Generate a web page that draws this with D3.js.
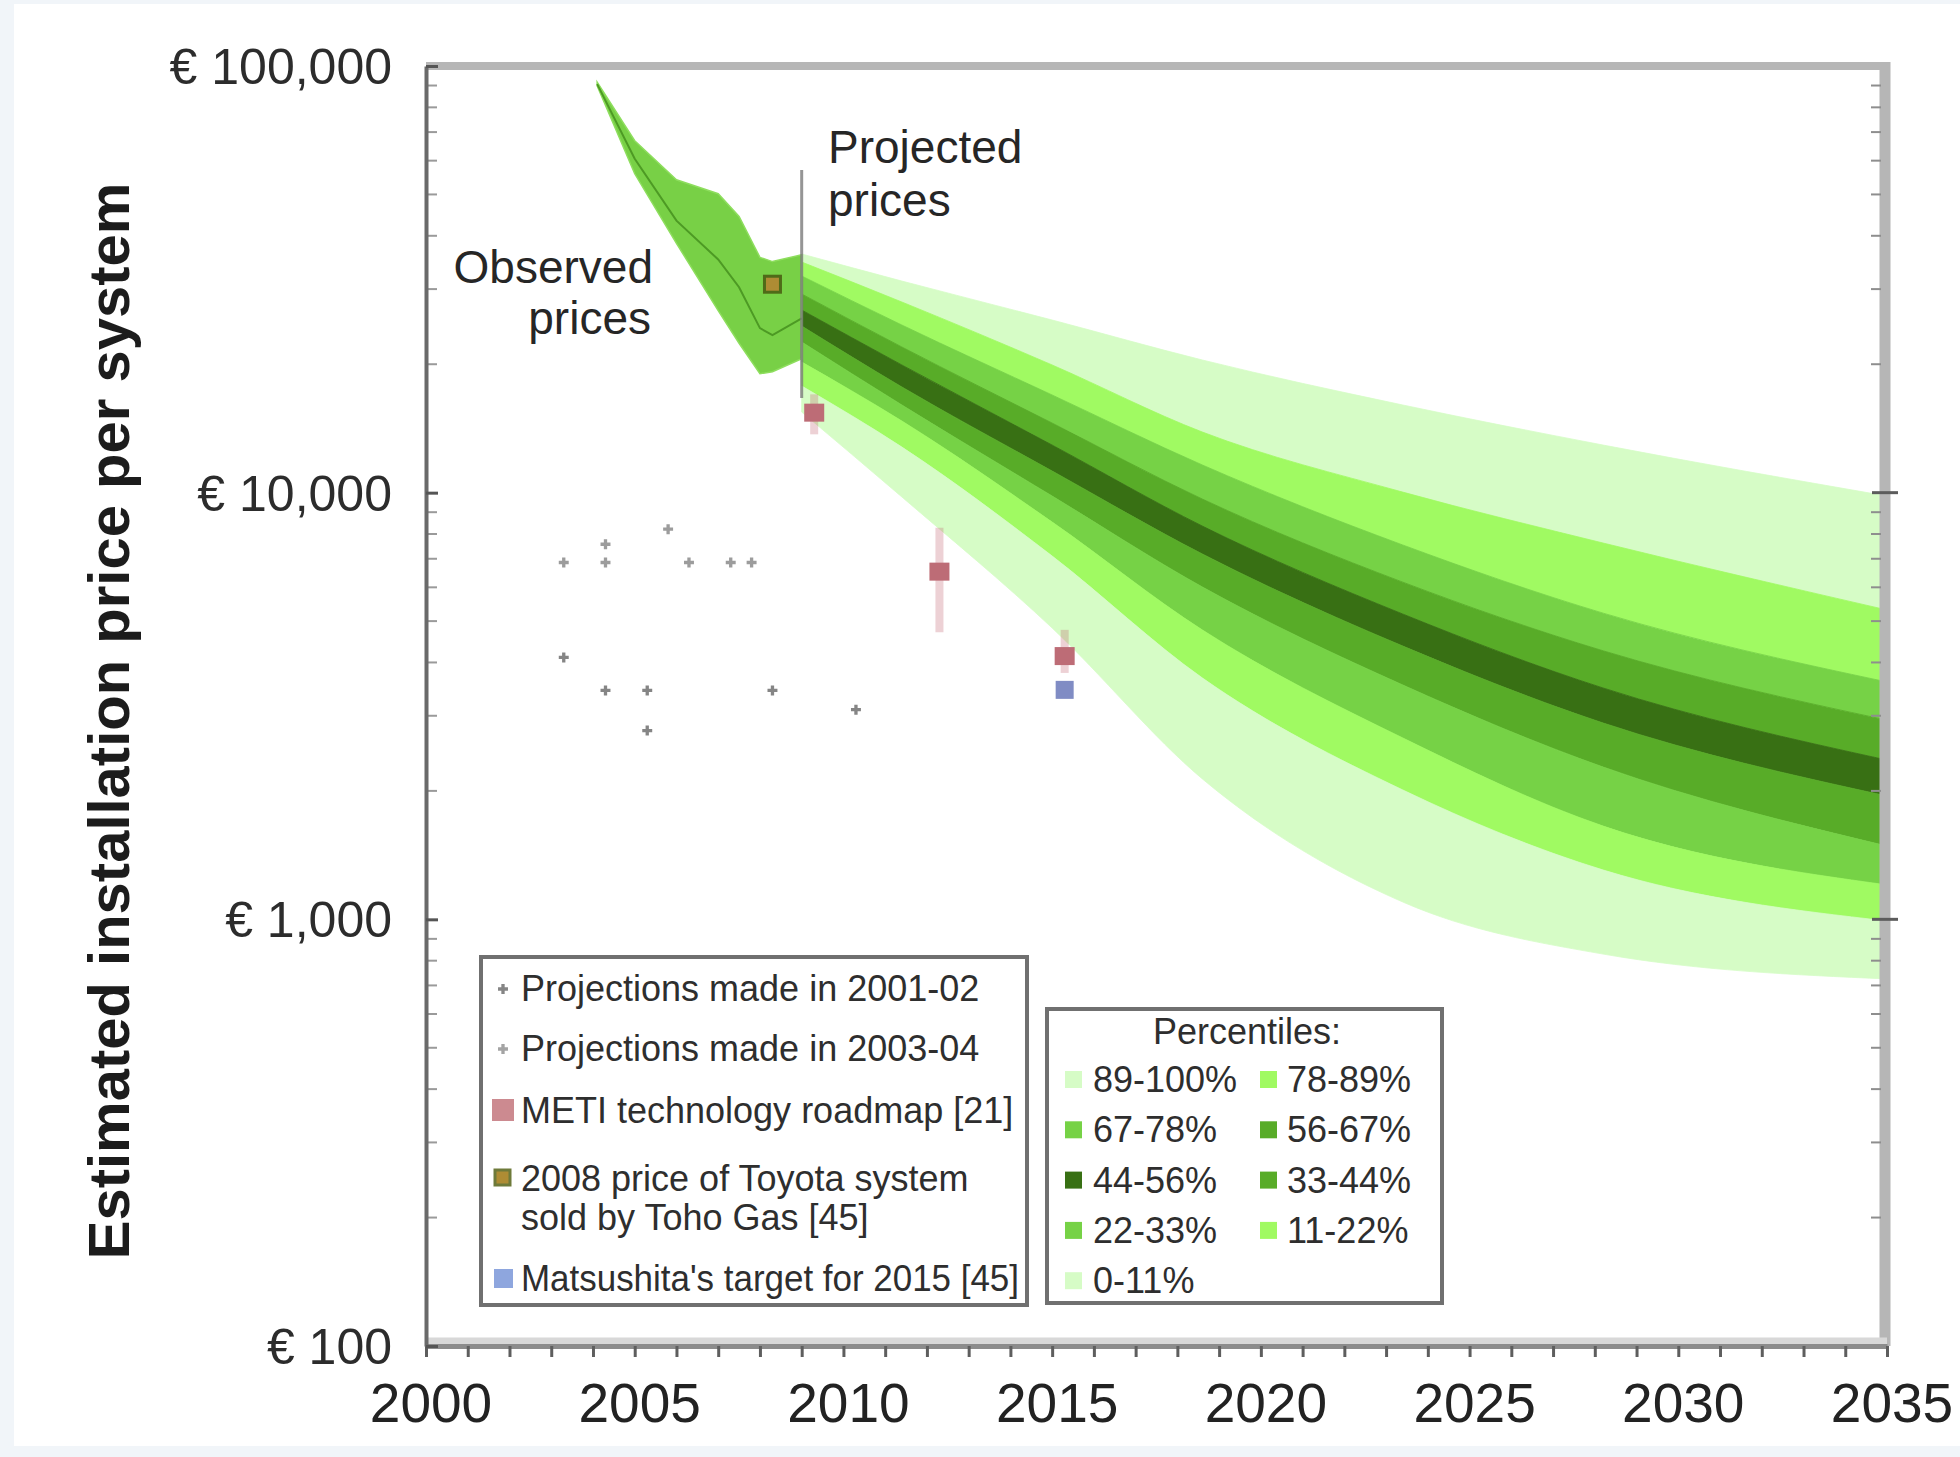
<!DOCTYPE html>
<html>
<head>
<meta charset="utf-8">
<script src="https://cdn.jsdelivr.net/npm/d3@7"></script>
<style>
  body { margin: 0; background: #f1f5f9; }
  svg { display: block; font-family: "Liberation Sans", Arial, sans-serif; }
</style>
</head>
<body>
<div id="grafico"></div>
<script>
// projected price fan, percentile boundaries (EUR per system)
const fanYears = [2009, 2011.4, 2015, 2018.6, 2023.4, 2028.2, 2035];
const p100 = [36260, 31330, 25390, 20460, 16050, 12930, 9820];
const p89  = [34720, 27980, 19920, 13870, 10030, 7620, 5310];
const p78  = [32200, 24710, 16940, 11610, 7540, 5220, 3600];
const p67  = [29220, 21950, 14560, 9660, 6170, 4260, 2930];
const p56  = [26800, 19920, 12930, 8350, 5195, 3485, 2362];
const p44  = [24580, 17690, 11240, 7180, 4370, 2885, 1945];
const p33  = [22550, 16050, 9820, 6010, 3542, 2275, 1485];
const p22  = [20240, 14720, 8535, 4765, 2661, 1654, 1204];
const p11  = [17780, 12790, 7104, 3678, 2010, 1305, 991];
const p0   = [15450, 9770, 4817, 2133, 1098, 829, 725];

// observed prices
const obsYears = [2004.1, 2005, 2006, 2007, 2007.5, 2008, 2008.3, 2009];
const obsHigh  = [91700, 66800, 54100, 50200, 44400, 35600, 34800, 36100];
const obsLow   = [89800, 55900, 38400, 26700, 22400, 19000, 19200, 20600];
const obsMid   = [90700, 60600, 43400, 35200, 30300, 24300, 23400, 25600];

// earlier projections
const proj0102Years  = [2003.3, 2004.3, 2005.3, 2005.3, 2008.3, 2010.3];
const proj0102Values = [4110, 3440, 3440, 2770, 3440, 3100];
const proj0304Years  = [2003.3, 2004.3, 2004.3, 2005.8, 2006.3, 2007.3, 2007.8];
const proj0304Values = [6860, 7570, 6860, 8210, 6860, 6860, 6860];

// METI roadmap with ranges
const metiYears  = [2009.3, 2012.3, 2015.3];
const metiValues = [15400, 6530, 4140];
const metiHigh   = [17000, 8270, 4770];
const metiLow    = [13700, 4710, 3780];

const toyotaYears  = [2008.3];
const toyotaValues = [30800];
const matsuYears   = [2015.3];
const matsuValues  = [3450];

const yTicks  = [100, 1000, 10000, 100000];
const yLabels = ["€ 100", "€ 1,000", "€ 10,000", "€ 100,000"];
const xTicks  = [2000, 2005, 2010, 2015, 2020, 2025, 2030, 2035];

const bandLabels = ["89-100%", "78-89%", "67-78%", "56-67%", "44-56%", "33-44%", "22-33%", "11-22%", "0-11%"];
const bandColors = ["#d6fcc6", "#a0fa62", "#76d246", "#58ac28", "#387014", "#58ac28", "#76d246", "#a0fa62", "#d6fcc6"];

const width = 1960, height = 1457;

const svg = d3.select('#grafico').append('svg')
    .attr('width', width)
    .attr('height', height);

svg.append('rect')
    .attr('x', 14).attr('y', 4)
    .attr('width', width - 14).attr('height', 1442)
    .attr('fill', '#fff');

const x = d3.scaleLinear().domain([2000, 2035]).range([426, 1887]);
const y = d3.scaleLog().domain([100, 100000]).range([1346, 66]);

// fan bands
const bounds = [p100, p89, p78, p67, p56, p44, p33, p22, p11, p0];
const idx = d3.range(fanYears.length);

bandLabels.forEach((lab, i) => {
    let area = d3.area()
        .x(j => x(fanYears[j]))
        .y1(j => y(bounds[i][j]))
        .y0(j => y(bounds[i + 1][j]))
        .curve(d3.curveMonotoneX);
    svg.append('path')
        .attr('d', area(idx))
        .attr('fill', bandColors[i])
        .attr('stroke', bandColors[i])
        .attr('stroke-width', 0.8);
});

// observed band
const obsIdx = d3.range(obsYears.length);
svg.append('path')
    .attr('d', d3.area()
        .x(j => x(obsYears[j]))
        .y1(j => y(obsHigh[j]))
        .y0(j => y(obsLow[j]))(obsIdx))
    .attr('fill', '#78d046')
    .attr('stroke', '#8ede5e')
    .attr('stroke-width', 1.5);

svg.append('path')
    .attr('d', d3.line()
        .x(j => x(obsYears[j]))
        .y(j => y(obsMid[j]))(obsIdx))
    .attr('fill', 'none')
    .attr('stroke', '#4d9a24')
    .attr('stroke-width', 2);

// divider between observed and projected
svg.append('line')
    .attr('x1', x(2009)).attr('x2', x(2009))
    .attr('y1', 170).attr('y2', 398)
    .attr('stroke', '#7a7a7a')
    .attr('stroke-opacity', 0.8)
    .attr('stroke-width', 3);

// frame
svg.append('line').attr('x1', 426).attr('x2', 1887).attr('y1', 66).attr('y2', 66)
    .attr('stroke', '#b6b6b6').attr('stroke-width', 8);
svg.append('line').attr('x1', 1885).attr('x2', 1885).attr('y1', 62).attr('y2', 1346)
    .attr('stroke', '#b6b6b6').attr('stroke-width', 11);
svg.append('line').attr('x1', 426).attr('x2', 1887).attr('y1', 1341).attr('y2', 1341)
    .attr('stroke', '#d8d8d8').attr('stroke-width', 7);

// x axis
let xAxis = d3.axisBottom(x)
    .tickValues(d3.range(2000, 2036))
    .tickSize(11)
    .tickSizeOuter(0)
    .tickFormat('');
let gx = svg.append('g').attr('transform', 'translate(0,1346)').call(xAxis);
gx.select('.domain').attr('stroke', '#8c8c8c').attr('stroke-width', 5);
gx.selectAll('.tick line').attr('stroke', '#5e5e5e').attr('stroke-width', 3);

svg.append('g').selectAll('text')
    .data(xTicks)
    .enter()
    .append('text')
    .attr('x', d => x(d) + 5)
    .attr('y', 1422)
    .attr('text-anchor', 'middle')
    .attr('font-size', 55)
    .attr('fill', '#222')
    .text(d => d);

// minor log ticks
const minor = y.ticks().filter(v => yTicks.indexOf(v) < 0);

svg.append('g').selectAll('line')
    .data(minor)
    .enter()
    .append('line')
    .attr('x1', 427).attr('x2', 437)
    .attr('y1', d => y(d)).attr('y2', d => y(d))
    .attr('stroke', '#9a9a9a').attr('stroke-width', 2);

svg.append('g').selectAll('line')
    .data(minor)
    .enter()
    .append('line')
    .attr('x1', 1871).attr('x2', 1881)
    .attr('y1', d => y(d)).attr('y2', d => y(d))
    .attr('stroke', '#8e8e8e').attr('stroke-width', 2);

// y axis
let yAxis = d3.axisLeft(y)
    .tickValues(yTicks)
    .tickSize(13)
    .tickSizeOuter(0)
    .tickFormat('');
let gy = svg.append('g').attr('transform', 'translate(426,0)').call(yAxis);
gy.select('.domain').attr('stroke', '#6a6a6a').attr('stroke-width', 4);
gy.selectAll('.tick line').attr('stroke', '#555').attr('stroke-width', 3).attr('x2', 12);

svg.append('g').selectAll('line')
    .data(yTicks.slice(1, 3))
    .enter()
    .append('line')
    .attr('x1', 1872).attr('x2', 1898)
    .attr('y1', d => y(d)).attr('y2', d => y(d))
    .attr('stroke', '#5c5c5c').attr('stroke-width', 3);

svg.append('g').selectAll('text')
    .data(yTicks)
    .enter()
    .append('text')
    .attr('x', 392)
    .attr('y', d => y(d))
    .attr('dy', '0.36em')
    .attr('text-anchor', 'end')
    .attr('font-size', 50)
    .attr('fill', '#2c2c2c')
    .text((d, i) => yLabels[i]);

svg.append('text')
    .attr('transform', 'translate(129,721) rotate(-90)')
    .attr('text-anchor', 'middle')
    .attr('font-size', 58)
    .attr('font-weight', 'bold')
    .attr('fill', '#1c1c1c')
    .text('Estimated installation price per system');

// earlier projections
const cross = d3.symbol().type(d3.symbolCross).size(55);

svg.append('g').selectAll('path')
    .data(proj0304Years)
    .enter()
    .append('path')
    .attr('transform', (d, i) => 'translate(' + x(d) + ',' + y(proj0304Values[i]) + ')')
    .attr('d', cross)
    .attr('fill', '#9c9c9c');

svg.append('g').selectAll('path')
    .data(proj0102Years)
    .enter()
    .append('path')
    .attr('transform', (d, i) => 'translate(' + x(d) + ',' + y(proj0102Values[i]) + ')')
    .attr('d', cross)
    .attr('fill', '#858585');

// METI
svg.append('g').selectAll('line')
    .data(metiYears)
    .enter()
    .append('line')
    .attr('x1', d => x(d)).attr('x2', d => x(d))
    .attr('y1', (d, i) => y(metiHigh[i]))
    .attr('y2', (d, i) => y(metiLow[i]))
    .attr('stroke', 'rgba(190,90,105,0.28)')
    .attr('stroke-width', 8);

svg.append('g').selectAll('rect')
    .data(metiYears)
    .enter()
    .append('rect')
    .attr('x', d => x(d) - 10)
    .attr('y', (d, i) => y(metiValues[i]) - 9)
    .attr('width', 20).attr('height', 18)
    .attr('fill', '#bd6c76');

svg.append('g').selectAll('rect')
    .data(matsuYears)
    .enter()
    .append('rect')
    .attr('x', d => x(d) - 9)
    .attr('y', (d, i) => y(matsuValues[i]) - 9)
    .attr('width', 18).attr('height', 18)
    .attr('fill', '#808cc4');

svg.append('g').selectAll('rect')
    .data(toyotaYears)
    .enter()
    .append('rect')
    .attr('x', d => x(d) - 8)
    .attr('y', (d, i) => y(toyotaValues[i]) - 8)
    .attr('width', 16).attr('height', 16)
    .attr('fill', '#ae8c34')
    .attr('stroke', '#4f6b18')
    .attr('stroke-width', 3);

// annotations
const note = svg.append('g').attr('font-size', 46).attr('fill', '#262626');
note.append('text').attr('x', 653).attr('y', 283).attr('text-anchor', 'end').text('Observed');
note.append('text').attr('x', 651).attr('y', 334).attr('text-anchor', 'end').text('prices');
note.append('text').attr('x', 828).attr('y', 163).text('Projected');
note.append('text').attr('x', 828).attr('y', 216).text('prices');

// legend: sources
let leg1 = svg.append('g').attr('font-size', 36).attr('fill', '#2e2e2e');
leg1.append('rect')
    .attr('x', 481).attr('y', 957).attr('width', 546).attr('height', 348)
    .attr('fill', '#fff').attr('stroke', '#707070').attr('stroke-width', 4);

leg1.append('path').attr('transform', 'translate(503,989)').attr('d', cross).attr('fill', '#858585');
leg1.append('text').attr('x', 521).attr('y', 1001).text('Projections made in 2001-02');
leg1.append('path').attr('transform', 'translate(503,1049)').attr('d', cross).attr('fill', '#a4a4a4');
leg1.append('text').attr('x', 521).attr('y', 1061).text('Projections made in 2003-04');
leg1.append('rect').attr('x', 492).attr('y', 1099).attr('width', 22).attr('height', 22).attr('fill', '#cc8a90');
leg1.append('text').attr('x', 521).attr('y', 1123).text('METI technology roadmap [21]');
leg1.append('rect').attr('x', 495).attr('y', 1170).attr('width', 15).attr('height', 15)
    .attr('fill', '#ae8c34').attr('stroke', '#6e7a3a').attr('stroke-width', 3);
leg1.append('text').attr('x', 521).attr('y', 1191).text('2008 price of Toyota system');
leg1.append('text').attr('x', 521).attr('y', 1230).text('sold by Toho Gas [45]');
leg1.append('rect').attr('x', 494).attr('y', 1269).attr('width', 19).attr('height', 19).attr('fill', '#8ea6de');
leg1.append('text').attr('x', 521).attr('y', 1291)
    .attr('textLength', 498).attr('lengthAdjust', 'spacingAndGlyphs')
    .text("Matsushita's target for 2015 [45]");

// legend: percentiles
let leg2 = svg.append('g').attr('font-size', 36).attr('fill', '#2e2e2e');
leg2.append('rect')
    .attr('x', 1047).attr('y', 1009).attr('width', 395).attr('height', 294)
    .attr('fill', '#fff').attr('stroke', '#707070').attr('stroke-width', 4);
leg2.append('text').attr('x', 1247).attr('y', 1044).attr('text-anchor', 'middle').text('Percentiles:');

let item = leg2.selectAll('g.item')
    .data(bandLabels)
    .enter()
    .append('g')
    .attr('class', 'item')
    .attr('transform', (d, i) => 'translate(' + (i % 2 ? 1260 : 1065) + ',' + (1092 + Math.floor(i / 2) * 50.3) + ')');

item.append('rect')
    .attr('x', 0).attr('y', -21)
    .attr('width', 17).attr('height', 17)
    .attr('fill', (d, i) => bandColors[i]);

item.append('text')
    .attr('x', (d, i) => i % 2 ? 27 : 28)
    .attr('y', 0)
    .text(d => d);
</script>
</body>
</html>
